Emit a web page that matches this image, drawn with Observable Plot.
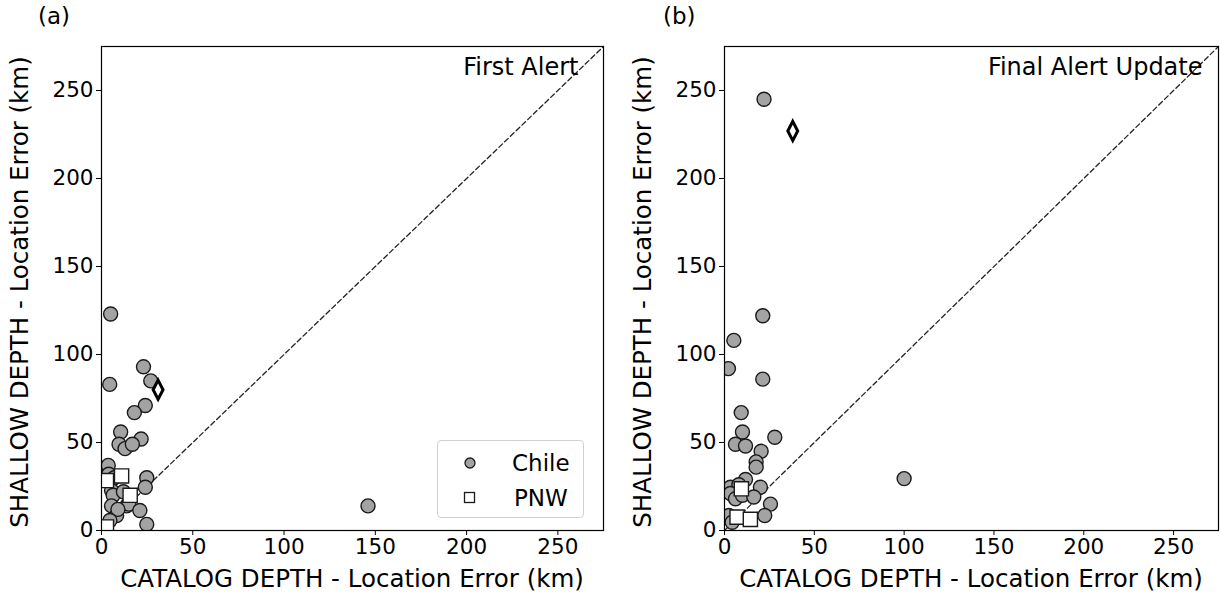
<!DOCTYPE html>
<html><head><meta charset="utf-8">
<script src="https://cdn.jsdelivr.net/npm/d3@7"></script>
<script src="https://cdn.jsdelivr.net/npm/@observablehq/plot@0.6"></script>
<style>
body{margin:0;background:#fff;font-family:"DejaVu Sans",sans-serif;}
#wrap{position:relative;width:1220px;height:600px;overflow:hidden;}
.panel{position:absolute;top:0;}
.plabel{position:absolute;top:3px;font-size:23px;color:#000;}
.ylab{position:absolute;font-size:24.5px;white-space:nowrap;transform:translate(-50%,-50%) rotate(-90deg);color:#000;}
.legend{position:absolute;left:437px;top:440px;width:147px;height:78px;border:1px solid #d0d0d0;border-radius:4px;background:#fff;box-sizing:border-box;}
.legend svg{position:absolute;left:-1px;top:-1px;}
</style></head><body><div id="wrap"></div>
<script>
// ---- data (km) ----
const ticks = [0, 50, 100, 150, 200, 250];
const axisMax = 275;
const oneToOne = [0, 275];

// Panel (a): First Alert
const chileAx = [5, 23, 27, 4.5, 24, 18, 10.5, 21.7, 9.6, 12.9, 16.9, 3.7, 4, 7, 24.8, 24, 5.5, 6.4, 12, 13.8, 15, 5.5, 8.3, 9, 21, 24.8, 4.6, 146];
const chileAy = [123, 93, 85, 83, 71, 67, 56, 52, 49, 46.5, 49, 37, 32, 30, 30, 24.6, 22.7, 20, 22, 14, 15, 14, 8.5, 12, 11.4, 3.5, 5.7, 14];
const pnwAx = [2.7, 11, 15.7, 2.7];
const pnwAy = [28.4, 31, 20, 2];
const diamondA = [31, 80];

// Panel (b): Final Alert Update
const chileBx = [22, 21.3, 5.2, 2.2, 21.3, 9.3, 10, 28, 6.1, 11.7, 20.4, 17.6, 17.6, 11.7, 20, 3.3, 8, 3.3, 6.1, 10, 16.3, 25.6, 22.4, 2.4, 4.3, 100];
const chileBy = [245, 122, 108, 92, 86, 67, 56, 53, 49, 48, 45, 39, 36, 29, 24.6, 24.6, 26, 21, 18, 20, 19, 15, 8.5, 8.5, 4.7, 29.5];
const pnwBx = [9.4, 7, 14.4];
const pnwBy = [23.7, 7.6, 6.3];
const diamondB = [38, 227];

const xLabel = "CATALOG DEPTH - Location Error (km)";
const yLabel = "SHALLOW DEPTH - Location Error (km)";
const panelTitles = ["First Alert", "Final Alert Update"];
const panelTags = ["(a)", "(b)"];
const legendLabels = ["Chile", "PNW"];

const thinDiamond = {
  draw(context, size) {
    const r = Math.sqrt(size / Math.PI);
    const w = r * 0.62, h = r * 1.2;
    context.moveTo(0, -h);
    context.lineTo(w, 0);
    context.lineTo(0, h);
    context.lineTo(-w, 0);
    context.closePath();
  }
};

const zip = (xs, ys) => xs.map((x, i) => ({x, y: ys[i]}));

function panel({cx, cy, px, py, dia, title, titleDx, marginLeft, marginRight}) {
  const chile = zip(cx, cy), pnw = zip(px, py);
  return Plot.plot({
    width: 610, height: 600,
    marginLeft, marginRight, marginTop: 46, marginBottom: 70,
    style: {fontFamily: "DejaVu Sans, sans-serif", background: "transparent", color: "#000", overflow: "visible"},
    x: {domain: [0, axisMax], ticks, label: null},
    y: {domain: [0, axisMax], ticks, label: null},
    marks: [
      Plot.line(oneToOne, {x: d => d, y: d => d, stroke: "#222", strokeWidth: 1.3, strokeDasharray: "5,3"}),
      Plot.dot(chile, {x: "x", y: "y", r: 7, fill: "#a3a3a3", stroke: "#1a1a1a", strokeWidth: 1.4, clip: true}),
      Plot.dot(pnw, {x: "x", y: "y", r: 8, symbol: "square", fill: "#fff", stroke: "#1a1a1a", strokeWidth: 1.4, clip: true}),
      Plot.dot([dia], {x: d => d[0], y: d => d[1], r: 8, symbol: thinDiamond, fill: "#fff", stroke: "#000", strokeWidth: 3}),
      Plot.frame({stroke: "#000", strokeWidth: 1.2}),
      Plot.axisX({ticks, tickSize: 5, tickPadding: 3, fontSize: 21.5, label: null}),
      Plot.axisY({ticks, tickSize: 5, tickPadding: 3, fontSize: 21.5, label: null}),
      Plot.text([title], {frameAnchor: "top-right", dx: titleDx, dy: 21, text: d => d, textAnchor: "end", lineAnchor: "middle", fontSize: 24})
    ]
  });
}

const wrap = document.getElementById("wrap");
const a = panel({cx: chileAx, cy: chileAy, px: pnwAx, py: pnwAy, dia: diamondA, title: panelTitles[0], titleDx: -25, marginLeft: 101, marginRight: 7});
a.classList.add("panel"); a.style.left = "0px";
const b = panel({cx: chileBx, cy: chileBy, px: pnwBx, py: pnwBy, dia: diamondB, title: panelTitles[1], titleDx: -16, marginLeft: 114, marginRight: 2});
b.classList.add("panel"); b.style.left = "610px";
wrap.appendChild(a); wrap.appendChild(b);

function addDiv(cls, text, css) {
  const d = document.createElement("div"); d.className = cls; d.textContent = text;
  Object.assign(d.style, css); wrap.appendChild(d); return d;
}
addDiv("plabel", panelTags[0], {left: "38px"});
addDiv("plabel", panelTags[1], {left: "663px"});
addDiv("ylab", yLabel, {left: "19px", top: "292px"});
addDiv("ylab", yLabel, {left: "642px", top: "292px"});
addDiv("ylab", xLabel, {left: "352px", top: "578px", transform: "translate(-50%,-50%)"});
addDiv("ylab", xLabel, {left: "971px", top: "578px", transform: "translate(-50%,-50%)"});

// legend
const leg = document.createElement("div"); leg.className = "legend";
leg.innerHTML = `<svg width="147" height="78" font-family="DejaVu Sans, sans-serif" font-size="23">
<circle cx="33" cy="23" r="5" fill="#a3a3a3" stroke="#1a1a1a" stroke-width="1.3"/>
<text x="75" y="23" dominant-baseline="central">${legendLabels[0]}</text>
<rect x="27.5" y="52.5" width="10" height="10" fill="#fff" stroke="#1a1a1a" stroke-width="1.3"/>
<text x="77" y="58" dominant-baseline="central">${legendLabels[1]}</text>
</svg>`;
wrap.appendChild(leg);
</script>
</body></html>
